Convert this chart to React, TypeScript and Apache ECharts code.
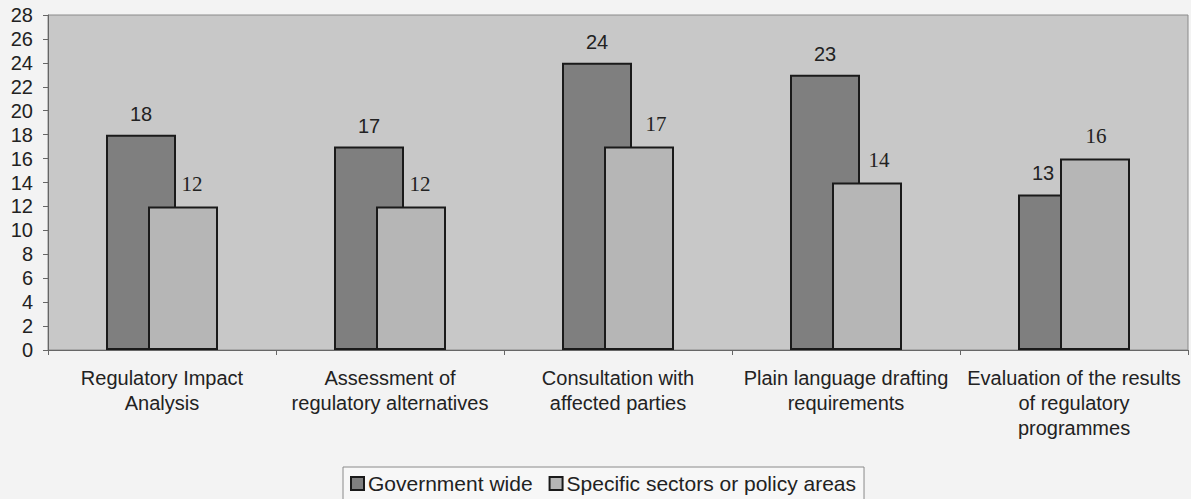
import React, { useEffect, useRef } from "react";
import * as echarts from "echarts";

const categories = [
  "Regulatory Impact\nAnalysis",
  "Assessment of\nregulatory alternatives",
  "Consultation with\naffected parties",
  "Plain language drafting\nrequirements",
  "Evaluation of the results\nof regulatory\nprogrammes",
];
const governmentWide = [18, 17, 24, 23, 13];
const specificSectors = [12, 12, 17, 14, 16];
const seriesNames = ["Government wide", "Specific sectors or policy areas"];
const yTicks = { min: 0, max: 28, step: 2 };

const SANS = "Liberation Sans, Arial, sans-serif";
const SERIF = "Liberation Serif, Times New Roman, serif";

export default function App() {
  const ref = useRef<HTMLDivElement>(null);
  useEffect(() => {
    document.body.style.margin = "0";
    const chart = echarts.init(ref.current!, null, { renderer: "svg" });
    const darkShift = [0, 0, 0, 0, -10];
    const lightShift = [9, 9, 17, 12, 1];
    chart.setOption({
      animation: false,
      backgroundColor: "#f3f3f3",
      grid: {
        left: 48,
        right: 3,
        top: 15,
        bottom: 149,
        show: true,
        backgroundColor: "#c8c8c8",
        borderColor: "#8a8a8a",
        borderWidth: 1,
      },
      legend: {
        left: 343,
        top: 467,
        icon: "rect",
        itemWidth: 13,
        itemHeight: 13,
        itemGap: 16,
        padding: [6, 8, 8, 7],
        borderColor: "#8a8a8a",
        borderWidth: 1,
        backgroundColor: "#f7f7f7",
        textStyle: { fontFamily: SANS, fontSize: 21, color: "#222", padding: [0, 0, 0, -1] },
        data: seriesNames,
      },
      xAxis: {
        type: "category",
        data: categories,
        axisLine: { show: true, lineStyle: { color: "#666", width: 1 } },
        axisTick: { show: true, length: 5, lineStyle: { color: "#666" } },
        axisLabel: {
          fontFamily: SANS,
          fontSize: 20,
          lineHeight: 25,
          color: "#222",
          margin: 15,
          interval: 0,
        },
      },
      yAxis: {
        type: "value",
        min: yTicks.min,
        max: yTicks.max,
        interval: yTicks.step,
        axisLine: { show: true, lineStyle: { color: "#666", width: 1 } },
        axisTick: { show: true, length: 5, lineStyle: { color: "#666" } },
        splitLine: { show: false },
        axisLabel: {
          fontFamily: SANS,
          fontSize: 20,
          color: "#222",
          margin: 15,
        },
      },
      series: [
        {
          name: seriesNames[0],
          type: "bar",
          data: governmentWide.map((v, i) => ({ value: v, label: { offset: [darkShift[i], 0] } })),
          barWidth: 70,
          barGap: "-40%",
          itemStyle: { color: "#7f7f7f", borderColor: "#1a1a1a", borderWidth: 2 },
          label: {
            show: true,
            position: "top",
            distance: 11,
            fontFamily: SANS,
            fontSize: 20,
            color: "#222",
          },
        },
        {
          name: seriesNames[1],
          type: "bar",
          data: specificSectors.map((v, i) => ({ value: v, label: { offset: [lightShift[i], 0] } })),
          barWidth: 70,
          barGap: "-40%",
          itemStyle: { color: "#b6b6b6", borderColor: "#1a1a1a", borderWidth: 2 },
          label: {
            show: true,
            position: "top",
            distance: 12,
            fontFamily: SERIF,
            fontSize: 21,
            color: "#222",
          },
        },
      ],
    });
    return () => chart.dispose();
  }, []);
  return <div ref={ref} style={{ width: 1191, height: 499 }} />;
}
